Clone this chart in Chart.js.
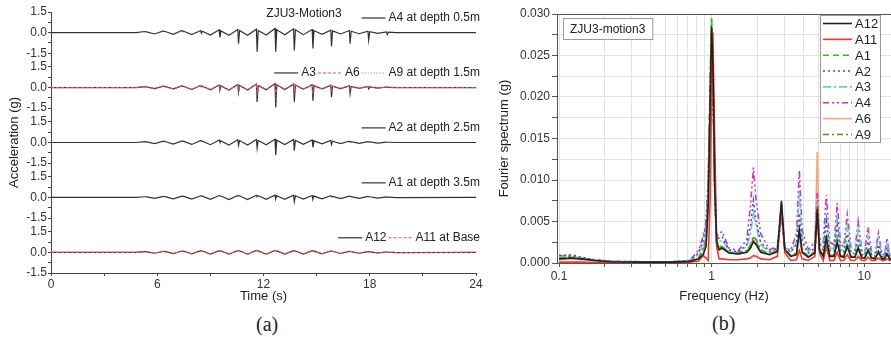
<!DOCTYPE html>
<html><head><meta charset="utf-8">
<script src="https://cdn.jsdelivr.net/npm/chart.js@4"></script>
<style>
html,body{margin:0;padding:0;background:#fff;width:891px;height:337px;overflow:hidden;}
#left{position:absolute;left:0;top:0;width:490px;height:308px;}
#right{position:absolute;left:490px;top:0;width:401px;height:308px;}
.pl{position:absolute;font-family:"Liberation Serif","Times New Roman",serif;font-size:20px;line-height:20px;color:#222;}
</style></head>
<body>
<div id="left"><canvas id="c1"></canvas></div>
<div id="right"><canvas id="c2"></canvas></div>
<div class="pl" style="left:256px;top:314px">(a)</div>
<div class="pl" style="left:712px;top:313px">(b)</div>
<script>
// ---------- (a) acceleration time histories ----------
const timeS = [0, 4.8,
 5.3, 5.34, 5.4, 5.85,
 6.35, 6.39, 6.45, 6.9,
 7.4, 7.44, 7.5, 7.95,
 8.45, 8.49, 8.55, 9.0,
 9.5, 9.54, 9.6, 10.05,
 10.55, 10.59, 10.65, 11.1,
 11.6, 11.64, 11.7, 12.15,
 12.65, 12.69, 12.75, 13.2,
 13.7, 13.74, 13.8, 14.25,
 14.75, 14.79, 14.85, 15.3,
 15.8, 15.84, 15.9, 16.35,
 16.85, 16.89, 16.95, 17.4,
 17.9, 17.94, 18.0, 18.45,
 18.95, 18.99, 19.05, 19.5,
 24];
const accA4 = [0, 0,
 0.08, 0.06, 0.05, -0.1,
 0.12, 0.1, 0.08, -0.12,
 0.15, 0.1, 0.1, -0.15,
 0.15, -0.05, 0.1, -0.18,
 0.2, -0.35, 0.12, -0.2,
 0.22, -0.8, 0.15, -0.2,
 0.25, -1.4, 0.15, -0.18,
 0.3, -1.4, 0.2, -0.15,
 0.28, -1.3, 0.2, -0.15,
 0.22, -1.15, 0.15, -0.12,
 0.18, -1.0, 0.12, -0.1,
 0.15, -0.8, 0.1, -0.08,
 0.1, -0.55, 0.06, -0.06,
 0.05, -0.15, 0.03, 0.0,
 0];
const accA3 = [0, 0,
 0.06, 0.05, 0.04, -0.08,
 0.1, 0.08, 0.07, -0.1,
 0.12, 0.1, 0.08, -0.14,
 0.15, 0.05, 0.1, -0.16,
 0.18, -0.15, 0.12, -0.18,
 0.22, -0.35, 0.15, -0.18,
 0.25, -1.05, 0.15, -0.16,
 0.28, -1.45, 0.2, -0.15,
 0.25, -1.05, 0.18, -0.12,
 0.2, -0.95, 0.14, -0.1,
 0.16, -0.7, 0.1, -0.08,
 0.12, -0.45, 0.08, -0.06,
 0.08, -0.1, 0.05, -0.04,
 0.04, 0.02, 0.02, 0.0,
 0];
const accA6 = [0, 0,
 0.07, 0.06, 0.05, -0.07,
 0.1, 0.09, 0.08, -0.1,
 0.13, 0.1, 0.09, -0.13,
 0.16, 0.1, 0.1, -0.16,
 0.2, 0.0, 0.12, -0.18,
 0.24, -0.2, 0.16, -0.17,
 0.27, -0.35, 0.18, -0.15,
 0.28, -0.4, 0.2, -0.14,
 0.26, -0.3, 0.18, -0.12,
 0.2, -0.3, 0.14, -0.1,
 0.16, -0.2, 0.1, -0.08,
 0.12, -0.1, 0.08, -0.06,
 0.08, 0.02, 0.05, -0.04,
 0.04, 0.03, 0.02, 0.0,
 0];
const accA9 = [0, 0,
 0.06, 0.05, 0.05, -0.08,
 0.1, 0.09, 0.08, -0.11,
 0.12, 0.1, 0.09, -0.14,
 0.15, 0.08, 0.1, -0.16,
 0.19, -0.1, 0.12, -0.18,
 0.23, -0.3, 0.15, -0.18,
 0.26, -0.6, 0.17, -0.16,
 0.28, -0.9, 0.2, -0.15,
 0.25, -0.55, 0.18, -0.12,
 0.2, -0.45, 0.14, -0.1,
 0.16, -0.3, 0.1, -0.08,
 0.12, -0.15, 0.08, -0.06,
 0.08, 0.0, 0.05, -0.04,
 0.04, 0.02, 0.02, 0.0,
 0];
const accA2 = [0, 0,
 0.06, 0.05, 0.04, -0.08,
 0.1, 0.08, 0.07, -0.12,
 0.12, 0.1, 0.08, -0.14,
 0.15, 0.1, 0.1, -0.16,
 0.18, 0.05, 0.12, -0.18,
 0.2, -0.2, 0.14, -0.18,
 0.22, -0.4, 0.15, -0.16,
 0.24, -0.9, 0.16, -0.15,
 0.22, -0.6, 0.15, -0.13,
 0.18, -0.35, 0.12, -0.1,
 0.15, -0.15, 0.1, -0.08,
 0.1, 0.02, 0.06, -0.06,
 0.06, 0.04, 0.04, -0.04,
 0.03, 0.02, 0.02, 0.0,
 0];
const accA1 = [0, 0,
 0.05, 0.05, 0.04, -0.06,
 0.08, 0.07, 0.06, -0.1,
 0.1, 0.09, 0.08, -0.12,
 0.12, 0.1, 0.1, -0.14,
 0.14, 0.12, 0.1, -0.15,
 0.15, 0.1, 0.12, -0.15,
 0.16, 0.05, 0.12, -0.14,
 0.17, -0.1, 0.12, -0.14,
 0.16, -0.3, 0.12, -0.12,
 0.14, -0.12, 0.1, -0.1,
 0.12, 0.05, 0.08, -0.08,
 0.1, 0.08, 0.06, -0.07,
 0.07, 0.06, 0.05, -0.05,
 0.04, 0.03, 0.03, -0.02,
 0];
const accA12 = [0, 0,
 0.05, 0.05, 0.04, -0.06,
 0.08, 0.07, 0.06, -0.09,
 0.1, 0.09, 0.08, -0.1,
 0.12, 0.1, 0.1, -0.12,
 0.13, 0.12, 0.1, -0.13,
 0.14, 0.12, 0.11, -0.13,
 0.14, 0.12, 0.11, -0.13,
 0.14, 0.12, 0.11, -0.12,
 0.13, 0.11, 0.1, -0.12,
 0.12, 0.1, 0.09, -0.1,
 0.1, 0.09, 0.08, -0.08,
 0.08, 0.07, 0.06, -0.06,
 0.05, 0.05, 0.04, -0.04,
 0.03, 0.03, 0.02, -0.01,
 0];
const accA11 = [0, 0,
 0.05, 0.05, 0.04, -0.05,
 0.08, 0.07, 0.06, -0.08,
 0.1, 0.09, 0.08, -0.1,
 0.12, 0.11, 0.1, -0.11,
 0.13, 0.12, 0.11, -0.12,
 0.14, 0.13, 0.12, -0.12,
 0.14, 0.13, 0.12, -0.12,
 0.14, 0.13, 0.12, -0.11,
 0.13, 0.12, 0.11, -0.11,
 0.12, 0.11, 0.1, -0.1,
 0.1, 0.09, 0.08, -0.08,
 0.08, 0.07, 0.06, -0.06,
 0.05, 0.05, 0.04, -0.04,
 0.03, 0.03, 0.02, -0.01,
 0];
const accTicks = [-1.5, -0.75, 0, 0.75, 1.5];
const timeTicks = [0, 3, 6, 9, 12, 15, 18, 21, 24];

// ---------- (b) Fourier spectra ----------
const freqHz = [0.1, 0.12, 0.14, 0.17, 0.22, 0.35, 0.55, 0.72, 0.82, 0.88,
 0.92, 0.95, 0.98, 1.0, 1.02, 1.05, 1.08, 1.12, 1.17, 1.3,
 1.5, 1.7, 1.8, 1.88, 1.96, 2.1, 2.4, 2.7, 2.87, 3.02,
 3.3, 3.6, 3.76, 3.92, 4.3, 4.75, 4.93, 5.1, 5.4, 5.65,
 5.95, 6.35, 6.66, 7.0, 7.35, 7.75, 8.2, 8.7, 9.14, 9.65,
 10.1, 10.6, 11.2, 11.8, 12.4, 13.1, 13.6, 14.1, 14.7, 15.0];
const specA12 = [0.0005, 0.0006, 0.0005, 0.0003, 0.00015, 0.0001, 0.0001, 0.0002, 0.0005, 0.001,
 0.002, 0.007, 0.02, 0.0285, 0.024, 0.009, 0.0025, 0.0016, 0.0018, 0.0012,
 0.0011, 0.0013, 0.0018, 0.0026, 0.0022, 0.0013, 0.001, 0.0014, 0.0075, 0.0016,
 0.0008, 0.001, 0.004, 0.0013, 0.0007, 0.0012, 0.0065, 0.0015, 0.0008, 0.003,
 0.0008, 0.0008, 0.0025, 0.0008, 0.0007, 0.002, 0.0007, 0.0007, 0.0018, 0.0006,
 0.0006, 0.0015, 0.0006, 0.0005, 0.0013, 0.0005, 0.0005, 0.0011, 0.0005, 0.0005];
const specA11 = [0.0001, 0.0001, 0.0001, 0.00005, 0.00005, 0.00005, 0.00005, 0.0001, 0.0002, 0.0009,
 0.0006, 0.0003, 0.008, 0.022, 0.0278, 0.014, 0.002, 0.0005, 0.0005, 0.0004,
 0.0004, 0.0005, 0.0006, 0.0009, 0.0008, 0.0005, 0.0004, 0.0008, 0.0072, 0.0012,
 0.0003, 0.0004, 0.0015, 0.0005, 0.0003, 0.0008, 0.0068, 0.0012, 0.0003, 0.002,
 0.0003, 0.0003, 0.0013, 0.0003, 0.0003, 0.001, 0.0003, 0.0003, 0.0008, 0.0003,
 0.0003, 0.0007, 0.0003, 0.0003, 0.0006, 0.0003, 0.0003, 0.0005, 0.0003, 0.0003];
const specA1 = [0.0006, 0.0007, 0.0005, 0.0003, 0.00015, 0.0001, 0.0001, 0.0002, 0.0006, 0.0015,
 0.0025, 0.008, 0.022, 0.0293, 0.023, 0.0085, 0.0025, 0.0018, 0.002, 0.0013,
 0.0012, 0.0014, 0.002, 0.003, 0.0025, 0.0015, 0.0011, 0.0015, 0.007, 0.0016,
 0.0009, 0.0011, 0.004, 0.0015, 0.0008, 0.0013, 0.006, 0.0016, 0.0009, 0.0035,
 0.0009, 0.0009, 0.003, 0.0009, 0.0008, 0.0024, 0.0008, 0.0007, 0.002, 0.0007,
 0.0006, 0.0017, 0.0006, 0.0006, 0.0015, 0.0006, 0.0005, 0.0013, 0.0005, 0.0005];
const specA2 = [0.0009, 0.001, 0.0007, 0.0004, 0.0002, 0.00015, 0.00015, 0.0003, 0.0012, 0.0028,
 0.0045, 0.009, 0.02, 0.028, 0.022, 0.008, 0.003, 0.003, 0.0032, 0.0016,
 0.0013, 0.0022, 0.0045, 0.0075, 0.005, 0.0025, 0.0014, 0.0018, 0.0055, 0.0018,
 0.0013, 0.0022, 0.006, 0.0025, 0.0012, 0.0018, 0.006, 0.0022, 0.0015, 0.005,
 0.0015, 0.0014, 0.0045, 0.0014, 0.0013, 0.0035, 0.0012, 0.0011, 0.003, 0.001,
 0.0009, 0.0026, 0.0009, 0.0008, 0.0022, 0.0008, 0.0008, 0.0019, 0.0008, 0.0007];
const specA3 = [0.0008, 0.0008, 0.0006, 0.0003, 0.0002, 0.0001, 0.00015, 0.0003, 0.001, 0.0023,
 0.0038, 0.008, 0.019, 0.0275, 0.023, 0.009, 0.003, 0.0026, 0.0028, 0.0015,
 0.0013, 0.002, 0.0035, 0.006, 0.0045, 0.0022, 0.0013, 0.0018, 0.0065, 0.0019,
 0.0013, 0.0025, 0.0085, 0.003, 0.0014, 0.002, 0.0075, 0.0025, 0.0018, 0.006,
 0.0018, 0.0017, 0.0055, 0.0016, 0.0015, 0.0045, 0.0014, 0.0013, 0.004, 0.0012,
 0.0011, 0.0033, 0.001, 0.001, 0.003, 0.0009, 0.0009, 0.0025, 0.0009, 0.0008];
const specA4 = [0.0009, 0.0008, 0.0006, 0.0004, 0.0002, 0.00015, 0.00015, 0.0003, 0.0015, 0.0032,
 0.005, 0.01, 0.02, 0.027, 0.021, 0.0075, 0.0032, 0.0035, 0.0038, 0.0018,
 0.0015, 0.0028, 0.007, 0.0115, 0.0075, 0.0035, 0.0016, 0.002, 0.0063, 0.002,
 0.0015, 0.0035, 0.0112, 0.004, 0.0016, 0.0025, 0.0085, 0.003, 0.0025, 0.0082,
 0.0025, 0.0022, 0.0072, 0.0022, 0.002, 0.0058, 0.0018, 0.0016, 0.005, 0.0015,
 0.0014, 0.0043, 0.0013, 0.0012, 0.0036, 0.0011, 0.001, 0.003, 0.001, 0.0009];
const specA6 = [0.0004, 0.0005, 0.0004, 0.0003, 0.00015, 0.0001, 0.0001, 0.0002, 0.0005, 0.0012,
 0.0022, 0.006, 0.018, 0.028, 0.022, 0.008, 0.0024, 0.0016, 0.0018, 0.0012,
 0.0011, 0.0013, 0.0018, 0.0028, 0.0023, 0.0014, 0.001, 0.0013, 0.006, 0.0015,
 0.0008, 0.001, 0.003, 0.0012, 0.0008, 0.0015, 0.0134, 0.0018, 0.0009, 0.003,
 0.0009, 0.0009, 0.0026, 0.0008, 0.0008, 0.0022, 0.0008, 0.0007, 0.0018, 0.0007,
 0.0006, 0.0015, 0.0006, 0.0006, 0.0013, 0.0005, 0.0005, 0.0011, 0.0005, 0.0005];
const specA9 = [0.0006, 0.0007, 0.0005, 0.0003, 0.00015, 0.0001, 0.0001, 0.0002, 0.0006, 0.0018,
 0.003, 0.009, 0.023, 0.0295, 0.024, 0.009, 0.0026, 0.002, 0.002, 0.0013,
 0.0012, 0.0015, 0.0022, 0.0032, 0.0028, 0.0016, 0.0011, 0.0015, 0.0062, 0.0016,
 0.0009, 0.0012, 0.0038, 0.0015, 0.0008, 0.0012, 0.0055, 0.0015, 0.0009, 0.003,
 0.0009, 0.0009, 0.0028, 0.0009, 0.0008, 0.0023, 0.0008, 0.0007, 0.0019, 0.0007,
 0.0006, 0.0016, 0.0006, 0.0006, 0.0014, 0.0006, 0.0005, 0.0012, 0.0005, 0.0005];
const freqTicks = [0.1, 0.2, 0.3, 0.4, 0.5, 0.6, 0.7, 0.8, 0.9, 1, 2, 3, 4, 5, 6, 7, 8, 9, 10];
const freqLabels = [0.1, 1, 10];
const specTicks = [0, 0.0025, 0.005, 0.0075, 0.01, 0.0125, 0.015, 0.0175, 0.02, 0.0225, 0.025, 0.0275, 0.03];
const specLabels = [0, 0.005, 0.01, 0.015, 0.02, 0.025, 0.03];

// ---------- helpers ----------
const FONT = '"Liberation Sans", Arial, Helvetica, sans-serif';
Chart.defaults.font.family = FONT;
Chart.defaults.color = '#333';
Chart.defaults.animation = false;
const pts = (xs, ys) => xs.map((x, i) => ({x: x, y: ys[i]}));

function drawSample(ctx, ds, x1, x2, y) {
  ctx.save();
  ctx.strokeStyle = ds.borderColor;
  ctx.lineWidth = ds.borderWidth || 1;
  ctx.setLineDash(ds.borderDash || []);
  ctx.beginPath(); ctx.moveTo(x1, y); ctx.lineTo(x2, y); ctx.stroke();
  ctx.restore();
}

const bandLegend = {
  id: 'bandLegend',
  afterDraw(chart, args, o) {
    const ctx = chart.ctx;
    ctx.save();
    ctx.font = '12px ' + FONT;
    ctx.fillStyle = '#222';
    ctx.textBaseline = 'middle';
    ctx.textAlign = 'left';
    o.rows.forEach(row => {
      const sc = chart.scales[row.axis];
      const y = sc.getPixelForValue(accTicks[accTicks.length - 1]) + o.dy;
      let total = 0;
      row.items.forEach((it, i) => { total += o.sample + o.gap + ctx.measureText(it.text).width + (i ? o.sep : 0); });
      let x = o.right - total;
      row.items.forEach((it, i) => {
        if (i) x += o.sep;
        drawSample(ctx, chart.data.datasets[it.ds], x, x + o.sample, y);
        x += o.sample + o.gap;
        ctx.fillText(it.text, x, y);
        x += ctx.measureText(it.text).width;
      });
    });
    ctx.textAlign = 'center';
    ctx.fillText(o.title, o.titleX, o.titleY);
    ctx.restore();
  }
};

function band(min, max, weight, stackWeight, withTitle) {
  return {
    type: 'linear', position: 'left', stack: 'acc', stackWeight: stackWeight, weight: weight,
    min: min, max: max,
    afterBuildTicks: s => { s.ticks = accTicks.map(v => ({value: v})); },
    afterFit: s => { s.width = 51; },
    ticks: { callback: v => (Math.abs(v) === 0.75 ? '' : v.toFixed(1)), font: {size: 12}, color: '#333', padding: 1, autoSkip: false },
    grid: { drawOnChartArea: false, tickLength: 3, color: '#444' },
    border: { color: '#444', width: 1 },
    title: { display: withTitle, text: 'Acceleration (g)', font: {size: 13}, color: '#222', padding: {top: 7, bottom: 0} }
  };
}

const blk = '#333', red = '#ff4a4a', blu = '#6060ee';
new Chart(document.getElementById('c1'), {
  type: 'line',
  data: { datasets: [
    {label: 'A4', data: pts(timeS, accA4), yAxisID: 'y1', borderColor: blk, borderWidth: 1.2, order: 2},
    {label: 'A3', data: pts(timeS, accA3), yAxisID: 'y2', borderColor: blk, borderWidth: 1.2, order: 2},
    {label: 'A6', data: pts(timeS, accA6), yAxisID: 'y2', borderColor: red, borderWidth: 1.1, borderDash: [3, 2], order: 1},
    {label: 'A9', data: pts(timeS, accA9), yAxisID: 'y2', borderColor: blu, borderWidth: 1.1, borderDash: [1, 2], order: 1},
    {label: 'A2', data: pts(timeS, accA2), yAxisID: 'y3', borderColor: blk, borderWidth: 1.2, order: 2},
    {label: 'A1', data: pts(timeS, accA1), yAxisID: 'y4', borderColor: blk, borderWidth: 1.2, order: 2},
    {label: 'A12', data: pts(timeS, accA12), yAxisID: 'y5', borderColor: blk, borderWidth: 1.2, order: 2},
    {label: 'A11', data: pts(timeS, accA11), yAxisID: 'y5', borderColor: red, borderWidth: 1.1, borderDash: [3, 2], order: 1}
  ]},
  options: {
    responsive: true, maintainAspectRatio: false, animation: false, events: [],
    layout: { padding: {top: 12, right: 14, bottom: 0, left: 0} },
    elements: { point: {radius: 0}, line: {tension: 0} },
    plugins: {
      legend: {display: false}, tooltip: {enabled: false},
      bandLegend: {
        right: 480, dy: 6, sample: 24, gap: 3, sep: 2,
        title: 'ZJU3-Motion3', titleX: 304, titleY: 14,
        rows: [
          {axis: 'y1', items: [{ds: 0, text: 'A4 at depth 0.5m'}]},
          {axis: 'y2', items: [{ds: 1, text: 'A3'}, {ds: 2, text: 'A6'}, {ds: 3, text: 'A9 at depth 1.5m'}]},
          {axis: 'y3', items: [{ds: 4, text: 'A2 at depth 2.5m'}]},
          {axis: 'y4', items: [{ds: 5, text: 'A1 at depth 3.5m'}]},
          {axis: 'y5', items: [{ds: 6, text: 'A12'}, {ds: 7, text: 'A11 at Base'}]}
        ]
      }
    },
    scales: {
      x: {
        type: 'linear', min: 0, max: 24,
        afterBuildTicks: s => { s.ticks = timeTicks.map(v => ({value: v})); },
        afterFit: s => { s.height = 35; },
        ticks: { callback: v => (v % 6 === 0 ? String(v) : ''), font: {size: 12}, color: '#333', padding: 1, maxRotation: 0, autoSkip: false },
        grid: { drawOnChartArea: false, tickLength: 3, color: '#444' },
        border: { color: '#444', width: 1 },
        title: { display: true, text: 'Time (s)', font: {size: 13}, color: '#222', padding: {top: 0, bottom: 4} }
      },
      y1: band(-2, 1.5, 5, 3.5, false),
      y2: band(-2, 2, 4, 4, false),
      y3: band(-2, 2, 3, 4, true),
      y4: band(-2, 2, 2, 4, false),
      y5: band(-1.5, 2, 1, 3.5, false)
    }
  },
  plugins: [bandLegend]
});

// ---------- (b) ----------
const specDecor = {
  id: 'specDecor',
  afterDraw(chart, args, o) {
    const ctx = chart.ctx, a = chart.chartArea;
    ctx.save();
    ctx.strokeStyle = '#555'; ctx.lineWidth = 1; ctx.setLineDash([]);
    ctx.strokeRect(a.left + 0.5, a.top + 0.5, a.right - a.left, a.bottom - a.top);
    ctx.font = '12px ' + FONT;
    const tw = ctx.measureText(o.tag).width;
    const bx = a.left + 6, by = a.top + 4, bw = tw + 14, bh = 21;
    ctx.fillStyle = '#fff'; ctx.fillRect(bx, by, bw, bh);
    ctx.strokeStyle = '#999'; ctx.strokeRect(bx + 0.5, by + 0.5, bw, bh);
    ctx.fillStyle = '#222'; ctx.textBaseline = 'middle'; ctx.textAlign = 'left';
    ctx.fillText(o.tag, bx + 7, by + bh / 2 + 1);
    const lx = a.right - 71, ly = a.top + 1, lw = 60, lh = 127;
    ctx.fillStyle = '#fff'; ctx.fillRect(lx, ly, lw, lh);
    ctx.strokeStyle = '#999'; ctx.strokeRect(lx + 0.5, ly + 0.5, lw, lh);
    ctx.font = '13px ' + FONT;
    chart.data.datasets.forEach((ds, i) => {
      const y = ly + 8.5 + i * 15.85;
      drawSample(ctx, ds, lx + 3, lx + 32, y);
      ctx.fillStyle = '#222';
      ctx.fillText(ds.label, lx + 35, y + 1);
    });
    ctx.restore();
  }
};

const isIn = (v, arr) => arr.some(t => Math.abs(t - v) < 1e-9);
new Chart(document.getElementById('c2'), {
  type: 'line',
  data: { datasets: [
    {label: 'A12', data: pts(freqHz, specA12), borderColor: '#222', borderWidth: 1.6},
    {label: 'A11', data: pts(freqHz, specA11), borderColor: '#ff3322', borderWidth: 1.6},
    {label: 'A1', data: pts(freqHz, specA1), borderColor: '#33bb33', borderWidth: 1.6, borderDash: [6, 4]},
    {label: 'A2', data: pts(freqHz, specA2), borderColor: '#4a4ad0', borderWidth: 1.6, borderDash: [2, 3]},
    {label: 'A3', data: pts(freqHz, specA3), borderColor: '#66cccc', borderWidth: 1.6, borderDash: [8, 3, 2, 3]},
    {label: 'A4', data: pts(freqHz, specA4), borderColor: '#cc33cc', borderWidth: 1.6, borderDash: [6, 3, 2, 3, 2, 3]},
    {label: 'A6', data: pts(freqHz, specA6), borderColor: '#f7a878', borderWidth: 1.6},
    {label: 'A9', data: pts(freqHz, specA9), borderColor: '#6b7d2a', borderWidth: 1.6, borderDash: [6, 3, 2, 3]}
  ]},
  options: {
    responsive: true, maintainAspectRatio: false, animation: false, events: [],
    layout: { padding: {top: 14, right: 0, bottom: 0, left: 0} },
    elements: { point: {radius: 0}, line: {tension: 0} },
    plugins: { legend: {display: false}, tooltip: {enabled: false}, specDecor: {tag: 'ZJU3-motion3'} },
    scales: {
      x: {
        type: 'logarithmic', min: 0.097, max: 15,
        afterBuildTicks: s => { s.ticks = freqTicks.map(v => ({value: v})); },
        afterFit: s => { s.height = 45; },
        ticks: { callback: v => (isIn(v, freqLabels) ? String(v) : ''), font: {size: 12}, color: '#333', padding: 2, maxRotation: 0, autoSkip: false },
        grid: { drawOnChartArea: true, color: '#e2e2e2', borderDash: [2, 2], tickLength: 4, tickColor: '#555' },
        border: { color: '#555', width: 1 },
        title: { display: true, text: 'Frequency (Hz)', font: {size: 13}, color: '#222', padding: {top: 0, bottom: 4} }
      },
      y: {
        type: 'linear', min: 0, max: 0.03,
        afterBuildTicks: s => { s.ticks = specTicks.map(v => ({value: v})); },
        afterFit: s => { s.width = 67; },
        ticks: { callback: v => (isIn(v, specLabels) ? v.toFixed(3) : ''), font: {size: 12}, color: '#333', padding: 2, autoSkip: false },
        grid: { drawOnChartArea: true, color: '#e2e2e2', borderDash: [2, 2], tickLength: 5, tickColor: '#555' },
        border: { color: '#555', width: 1 },
        title: { display: true, text: 'Fourier spectrum (g)', font: {size: 13}, color: '#222', padding: {top: 7, bottom: 0} }
      }
    }
  },
  plugins: [specDecor]
});
</script>
</body></html>
